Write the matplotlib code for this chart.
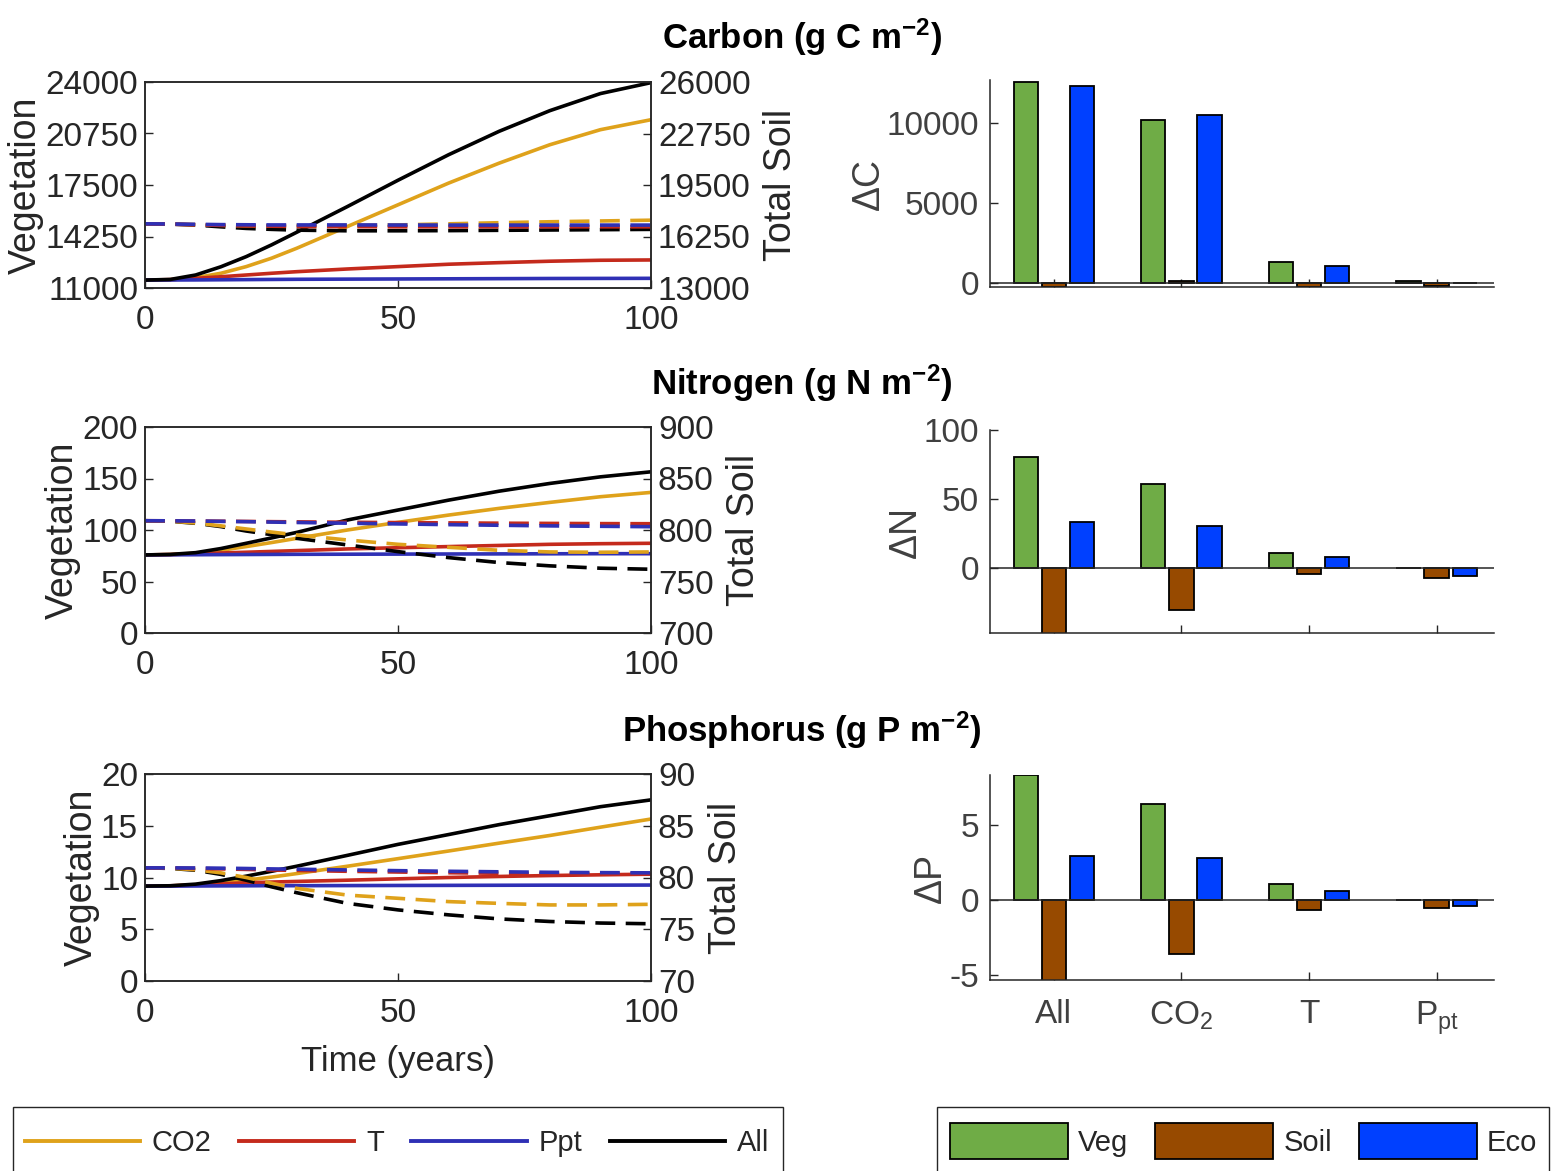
import matplotlib
matplotlib.use('Agg')
import matplotlib.pyplot as plt
from matplotlib.lines import Line2D
from matplotlib.patches import Patch, Rectangle

FONT = 'Liberation Sans'
plt.rcParams['font.family'] = [FONT, 'DejaVu Sans']
plt.rcParams['mathtext.fontset'] = 'custom'
plt.rcParams['mathtext.rm'] = FONT
plt.rcParams['mathtext.it'] = FONT + ':italic'
plt.rcParams['mathtext.bf'] = FONT + ':bold'
plt.rcParams['mathtext.default'] = 'regular'
plt.rcParams['axes.unicode_minus'] = False

TXT = '#262626'
GREY = '#404040'

# ---------------- data ----------------
years = [0, 5, 10, 15, 20, 25, 30, 40, 50, 60, 70, 80, 90, 100]
scenarios = ['CO2', 'T', 'Ppt', 'All']
line_colors = ['#DFA21B', '#C42A1C', '#2F30B5', '#000000']

# Carbon (g C m-2)
c_veg_co2 = [11500, 11520, 11650, 11930, 12350, 12880, 13510, 14880, 16250, 17620, 18880, 20040, 20990, 21620]
c_veg_t   = [11500, 11530, 11610, 11710, 11820, 11930, 12030, 12200, 12350, 12500, 12600, 12690, 12750, 12770]
c_veg_ppt = [11500, 11505, 11510, 11520, 11530, 11540, 11550, 11560, 11570, 11580, 11590, 11600, 11605, 11610]
c_veg_all = [11500, 11540, 11820, 12340, 12980, 13720, 14520, 16140, 17800, 19410, 20890, 22190, 23270, 23960]
c_soil_co2 = [17050, 17040, 17000, 16960, 16930, 16920, 16920, 16940, 16980, 17050, 17120, 17180, 17230, 17280]
c_soil_t   = [17050, 17030, 16990, 16950, 16920, 16900, 16880, 16870, 16860, 16860, 16860, 16860, 16860, 16860]
c_soil_ppt = [17050, 17040, 17020, 17000, 16990, 16980, 16980, 16980, 16975, 16970, 16970, 16970, 16970, 16970]
c_soil_all = [17050, 17030, 16970, 16860, 16760, 16700, 16650, 16610, 16610, 16620, 16640, 16660, 16680, 16700]

# Nitrogen (g N m-2)
n_veg_co2 = [75.8, 76.1, 77.4, 80.3, 83.9, 87.8, 91.9, 100.0, 107.4, 114.5, 121.0, 126.8, 132.3, 136.5]
n_veg_t   = [75.8, 76.2, 76.9, 77.7, 78.4, 79.2, 80.0, 81.6, 82.8, 83.9, 85.0, 86.1, 86.7, 87.1]
n_veg_ppt = [75.8, 75.9, 76.0, 76.1, 76.2, 76.3, 76.4, 76.5, 76.6, 76.7, 76.8, 76.9, 77.0, 77.0]
n_veg_all = [75.8, 76.3, 78.0, 82.0, 87.1, 92.3, 97.7, 109.7, 119.4, 129.0, 137.7, 145.2, 151.6, 156.5]
n_soil_co2 = [809.0, 808.6, 806.8, 804.0, 801.0, 798.0, 795.2, 790.3, 786.1, 783.2, 780.3, 778.7, 778.4, 778.7]
n_soil_t   = [809.0, 808.9, 808.7, 808.5, 808.3, 808.1, 807.9, 807.5, 807.2, 806.9, 806.6, 806.4, 806.2, 806.1]
n_soil_ppt = [809.0, 808.9, 808.7, 808.4, 808.1, 807.7, 807.3, 806.6, 805.9, 805.2, 804.6, 804.0, 803.6, 803.2]
n_soil_all = [809.0, 808.5, 806.5, 803.3, 799.0, 795.5, 791.9, 785.5, 779.0, 773.2, 768.4, 765.2, 762.9, 761.9]

# Phosphorus (g P m-2)
p_veg_co2 = [9.17, 9.18, 9.30, 9.50, 9.74, 10.04, 10.38, 11.09, 11.82, 12.56, 13.32, 14.06, 14.86, 15.65]
p_veg_t   = [9.17, 9.20, 9.27, 9.38, 9.49, 9.56, 9.62, 9.74, 9.87, 10.00, 10.10, 10.19, 10.26, 10.32]
p_veg_ppt = [9.17, 9.17, 9.18, 9.19, 9.20, 9.21, 9.21, 9.22, 9.23, 9.24, 9.25, 9.26, 9.26, 9.27]
p_veg_all = [9.17, 9.20, 9.36, 9.70, 10.13, 10.60, 11.09, 12.14, 13.20, 14.15, 15.11, 15.97, 16.84, 17.50]
p_soil_co2 = [80.93, 80.90, 80.75, 80.45, 80.00, 79.45, 78.95, 78.30, 77.99, 77.67, 77.50, 77.35, 77.35, 77.41]
p_soil_t   = [80.93, 80.92, 80.88, 80.83, 80.78, 80.73, 80.68, 80.60, 80.53, 80.46, 80.41, 80.37, 80.34, 80.32]
p_soil_ppt = [80.93, 80.93, 80.92, 80.90, 80.87, 80.83, 80.80, 80.73, 80.66, 80.60, 80.55, 80.50, 80.47, 80.45]
p_soil_all = [80.93, 80.88, 80.70, 80.30, 79.74, 79.10, 78.53, 77.50, 76.87, 76.39, 76.00, 75.75, 75.60, 75.53]

veg_ticks_c = [11000, 14250, 17500, 20750, 24000]
soil_ticks_c = [13000, 16250, 19500, 22750, 26000]
veg_ticks_n = [0, 50, 100, 150, 200]
soil_ticks_n = [700, 750, 800, 850, 900]
veg_ticks_p = [0, 5, 10, 15, 20]
soil_ticks_p = [70, 75, 80, 85, 90]
time_ticks = [0, 50, 100]

# Bar panels: change after 100 years
bar_cats = ['All', 'CO$_2$', 'T', 'P$_{pt}$']
bar_pools = ['Veg', 'Soil', 'Eco']
bar_colors = ['#6FAC46', '#974A00', '#0040FF']
dC_veg  = [12560, 10190, 1310, 150]
dC_soil = [-230, 150, -230, -200]
dC_eco  = [12310, 10500, 1060, -20]
dN_veg  = [80.4, 61.0, 10.9, 0.0]
dN_soil = [-48.0, -30.4, -4.3, -7.2]
dN_eco  = [33.3, 30.4, 8.0, -5.8]
dP_veg  = [8.3, 6.4, 1.1, 0.0]
dP_soil = [-5.4, -3.6, -0.65, -0.5]
dP_eco  = [2.9, 2.8, 0.6, -0.4]

# ---------------- figure ----------------
W, H = 1557, 1171
fig = plt.figure(figsize=(W / 100, H / 100), dpi=100)


def fr(x0, y0, x1, y1):
    return [x0 / W, 1 - y1 / H, (x1 - x0) / W, (y1 - y0) / H]


TICK_FS = 24
LAB_FS = 27


def style_ax(ax):
    for s in ax.spines.values():
        s.set_linewidth(1.1)
        s.set_color(TXT)
    ax.tick_params(direction='in', length=6, width=1.0, colors=TXT,
                   labelsize=TICK_FS, labelcolor=TXT)


line_panels = [
    ((82, 288), [c_veg_co2, c_veg_t, c_veg_ppt, c_veg_all],
     [c_soil_co2, c_soil_t, c_soil_ppt, c_soil_all], veg_ticks_c, soil_ticks_c),
    ((427, 633), [n_veg_co2, n_veg_t, n_veg_ppt, n_veg_all],
     [n_soil_co2, n_soil_t, n_soil_ppt, n_soil_all], veg_ticks_n, soil_ticks_n),
    ((774, 981), [p_veg_co2, p_veg_t, p_veg_ppt, p_veg_all],
     [p_soil_co2, p_soil_t, p_soil_ppt, p_soil_all], veg_ticks_p, soil_ticks_p),
]

dash_order = [3, 0, 1, 2]
for i, ((y0, y1), vegs, soils, vt, st) in enumerate(line_panels):
    ax = fig.add_axes(fr(145, y0, 651, y1))
    ax2 = ax.twinx()
    for v, c in zip(vegs, line_colors):
        ax.plot(years, v, color=c, lw=2.6)
    for k in dash_order:
        ax2.plot(years, soils[k], color=line_colors[k], lw=2.6, ls=(0, (5.5, 2.9)))
    ax.set_xlim(0, 100)
    ax.set_ylim(vt[0], vt[-1])
    ax2.set_ylim(st[0], st[-1])
    ax.set_xticks(time_ticks)
    ax.set_yticks(vt)
    ax2.set_yticks(st)
    for a in (ax, ax2):
        style_ax(a)
    ax.tick_params(axis='x', pad=12)
    ax.tick_params(axis='y', pad=5)
    ax2.tick_params(axis='y', pad=5)
    ax.set_ylabel('Vegetation', fontsize=LAB_FS, color=TXT, labelpad=1)
    ax2.set_ylabel('Total Soil', fontsize=LAB_FS, color=TXT, labelpad=9)
    if i == 2:
        ax.set_xlabel('Time (years)', fontsize=25, color=TXT, labelpad=12)

bar_panels = [
    ((80, 287), [dC_veg, dC_soil, dC_eco], (-250, 12690), [0, 5000, 10000], '\u0394C'),
    ((430, 633), [dN_veg, dN_soil, dN_eco], (-47, 100), [0, 50, 100], '\u0394N'),
    ((775, 980), [dP_veg, dP_soil, dP_eco], (-5.3, 8.3), [-5, 0, 5], '\u0394P'),
]
xpos = [1, 2, 3, 4]
offsets = [-0.22, 0.0, 0.22]
for i, ((y0, y1), series, ylim, yt, lab) in enumerate(bar_panels):
    ax = fig.add_axes(fr(990, y0, 1494, y1))
    for vals, off, c in zip(series, offsets, bar_colors):
        ax.bar([x + off for x in xpos], vals, width=0.19, color=c,
               edgecolor='black', linewidth=1.3, zorder=2)
    ax.axhline(0, color=TXT, lw=1.1, zorder=3)
    ax.set_xlim(0.5, 4.45)
    ax.set_ylim(*ylim)
    ax.set_yticks(yt)
    ax.set_xticks(xpos)
    style_ax(ax)
    ax.spines['top'].set_visible(False)
    ax.spines['right'].set_visible(False)
    ax.tick_params(axis='y', pad=8, labelcolor=GREY)
    ax.tick_params(axis='x', pad=14, labelcolor=GREY)
    if i == 2:
        ax.set_xticklabels(bar_cats)
    else:
        ax.set_xticklabels([])
    ax.set_ylabel(lab, fontsize=LAB_FS, color=GREY, labelpad=0)

# Titles
titles = [('Carbon (g C m$^{\\mathbf{-2}}$)', 37),
          ('Nitrogen (g N m$^{\\mathbf{-2}}$)', 383),
          ('Phosphorus (g P m$^{\\mathbf{-2}}$)', 730)]
for t, yc in titles:
    fig.text(802 / W, 1 - yc / H, t, ha='center', va='center',
             fontsize=25, fontweight='bold', color='black')

# Legends (frames run past the bottom edge, as in the reference)
LEG_FS = 21
for (x0, x1) in [(13, 783), (937, 1549)]:
    fig.add_artist(Rectangle((x0 / W, 1 - 1200 / H), (x1 - x0) / W, 93 / H,
                             transform=fig.transFigure, fill=False,
                             edgecolor=TXT, linewidth=1.0))

line_handles = [Line2D([], [], color=c, lw=2.8) for c in line_colors]
leg1 = fig.legend(line_handles, scenarios, loc='center left',
                  bbox_to_anchor=(13 / W, 1 - 1143 / H), ncol=4,
                  fontsize=LEG_FS, handlelength=3.95,
                  handletextpad=0.4, columnspacing=0.95, borderaxespad=0,
                  borderpad=0.4, frameon=False)
for tx in leg1.get_texts():
    tx.set_color(TXT)

patch_handles = [Patch(facecolor=c, edgecolor='black', linewidth=1.3) for c in bar_colors]
leg2 = fig.legend(patch_handles, bar_pools, loc='center left',
                  bbox_to_anchor=(937 / W, 1 - 1141 / H), ncol=3,
                  fontsize=LEG_FS, handlelength=4.05, handleheight=1.5,
                  handletextpad=0.34, columnspacing=0.92, borderaxespad=0,
                  borderpad=0.45, frameon=False)
for tx in leg2.get_texts():
    tx.set_color(TXT)

fig.savefig('out.png', dpi=100)
